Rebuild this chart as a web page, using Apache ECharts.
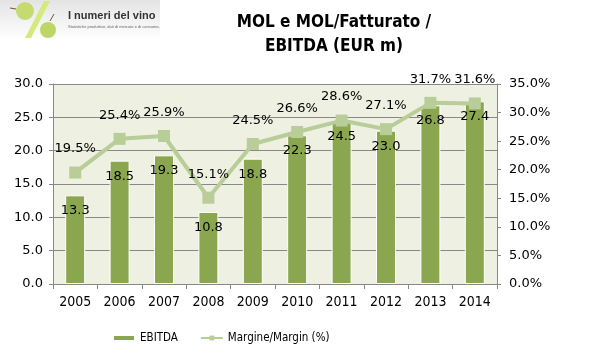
<!DOCTYPE html>
<html><head><meta charset="utf-8">
<script src="https://cdn.jsdelivr.net/npm/echarts@6/dist/echarts.min.js"></script>
<style>html,body{margin:0;padding:0;background:#fff}#c{width:595px;height:364px}</style>
</head><body><div id="c"></div>
<script>
const years = ['2005','2006','2007','2008','2009','2010','2011','2012','2013','2014'];
const ebitda = [13.3, 18.5, 19.3, 10.8, 18.8, 22.3, 24.5, 23.0, 26.8, 27.4];
const margin = [19.5, 25.4, 25.9, 15.1, 24.5, 26.6, 28.6, 27.1, 31.7, 31.6];
const leftTicks = [0, 30, 5];
const rightTicks = [0, 35, 5];

const chart = echarts.init(document.getElementById('c'), null, {renderer:'canvas'});
const narrow = '"DejaVu Sans Condensed", "Liberation Sans", Arial, sans-serif';
const dv = '"DejaVu Sans", Verdana, sans-serif';
chart.setOption({
  animation: false,
  backgroundColor: '#fff',
  title: {
    text: 'MOL e MOL/Fatturato /\nEBITDA (EUR m)',
    left: 329, top: 6, textAlign: 'center',
    textStyle: {fontFamily: narrow, fontSize: 17, fontWeight: 'bold', color: '#000', lineHeight: 24}
  },
  graphic: [
    {type:'rect', shape:{x:0,y:0,width:160,height:40}, style:{fill:new echarts.graphic.LinearGradient(0,0,0,1,[{offset:0,color:'#e4e4e4'},{offset:1,color:'#ffffff'}])}},
    {type:'circle', shape:{cx:25,cy:11,r:9}, style:{fill:'#c6da72'}},
    {type:'line', shape:{x1:10,y1:8,x2:16,y2:9}, style:{stroke:'#6b5a2a',lineWidth:1}},
    {type:'polygon', shape:{points:[[44,1],[50,1],[31,38],[25,38]]}, style:{fill:'#d6e97e'}},
    {type:'circle', shape:{cx:48,cy:30,r:8}, style:{fill:'#bed666'}},
    {type:'line', shape:{x1:50,y1:21,x2:54,y2:14}, style:{stroke:'#6b5a2a',lineWidth:1}},
    {type:'text', x:68, y:10, style:{text:'I numeri del vino', font:'bold 11px "Liberation Sans", Arial', fill:'#333'}},
    {type:'text', x:68, y:25, style:{text:'Statistiche produttive, dati di mercato e di consumo,', font:'4px "Liberation Sans", Arial', fill:'#666'}}
  ],
  grid: {left: 53, right: 98, top: 84, bottom: 80, show: true, backgroundColor: '#eef0e1', borderWidth: 0},
  legend: {
    bottom: 15, left: 107, itemGap: 22, itemWidth: 22, itemHeight: 6,
    textStyle: {fontFamily: narrow, fontSize: 11.5, color: '#000'},
    data: [
      {name:'EBITDA', icon:'rect'},
      {name:'Margine/Margin (%)'}
    ]
  },
  xAxis: {
    type: 'category', data: years,
    axisLine: {lineStyle: {color: '#888'}},
    axisTick: {show: true, length: 5, lineStyle: {color: '#888'}},
    axisLabel: {fontFamily: narrow, fontSize: 14, color: '#000', margin: 11}
  },
  yAxis: [
    {type: 'value', min: leftTicks[0], max: leftTicks[1], interval: leftTicks[2],
     axisLine: {show: true, lineStyle: {color: '#888'}},
     axisTick: {show: true, length: 4, lineStyle: {color: '#888'}},
     splitLine: {lineStyle: {color: '#888', width: 1}},
     axisLabel: {fontFamily: dv, fontSize: 13, color: '#000', margin: 10, formatter: v => v.toFixed(1)}},
    {type: 'value', min: rightTicks[0], max: rightTicks[1], interval: rightTicks[2],
     axisLine: {show: true, lineStyle: {color: '#888'}},
     axisTick: {show: true, length: 4, lineStyle: {color: '#888'}},
     splitLine: {show: false},
     axisLabel: {fontFamily: dv, fontSize: 13, color: '#000', margin: 12, formatter: v => v.toFixed(1) + '%'}}
  ],
  series: [
    {name: 'EBITDA', type: 'bar', data: ebitda, barWidth: 20, yAxisIndex: 0,
     itemStyle: {color: '#8aa64f', borderColor: '#ffffff', borderWidth: 1},
     label: {show: true, position: 'insideTop', distance: 9, fontFamily: dv, fontSize: 13, color: '#000', formatter: p => p.value.toFixed(1)}},
    {name: 'Margine/Margin (%)', type: 'line', data: margin, yAxisIndex: 1,
     symbol: 'rect', symbolSize: 12,
     lineStyle: {color: '#b9cd98', width: 4},
     itemStyle: {color: '#b9cd98'},
     label: {show: true, position: 'top', distance: 11, fontFamily: dv, fontSize: 13, color: '#000', formatter: p => p.value.toFixed(1) + '%'}}
  ]
});
</script></body></html>
